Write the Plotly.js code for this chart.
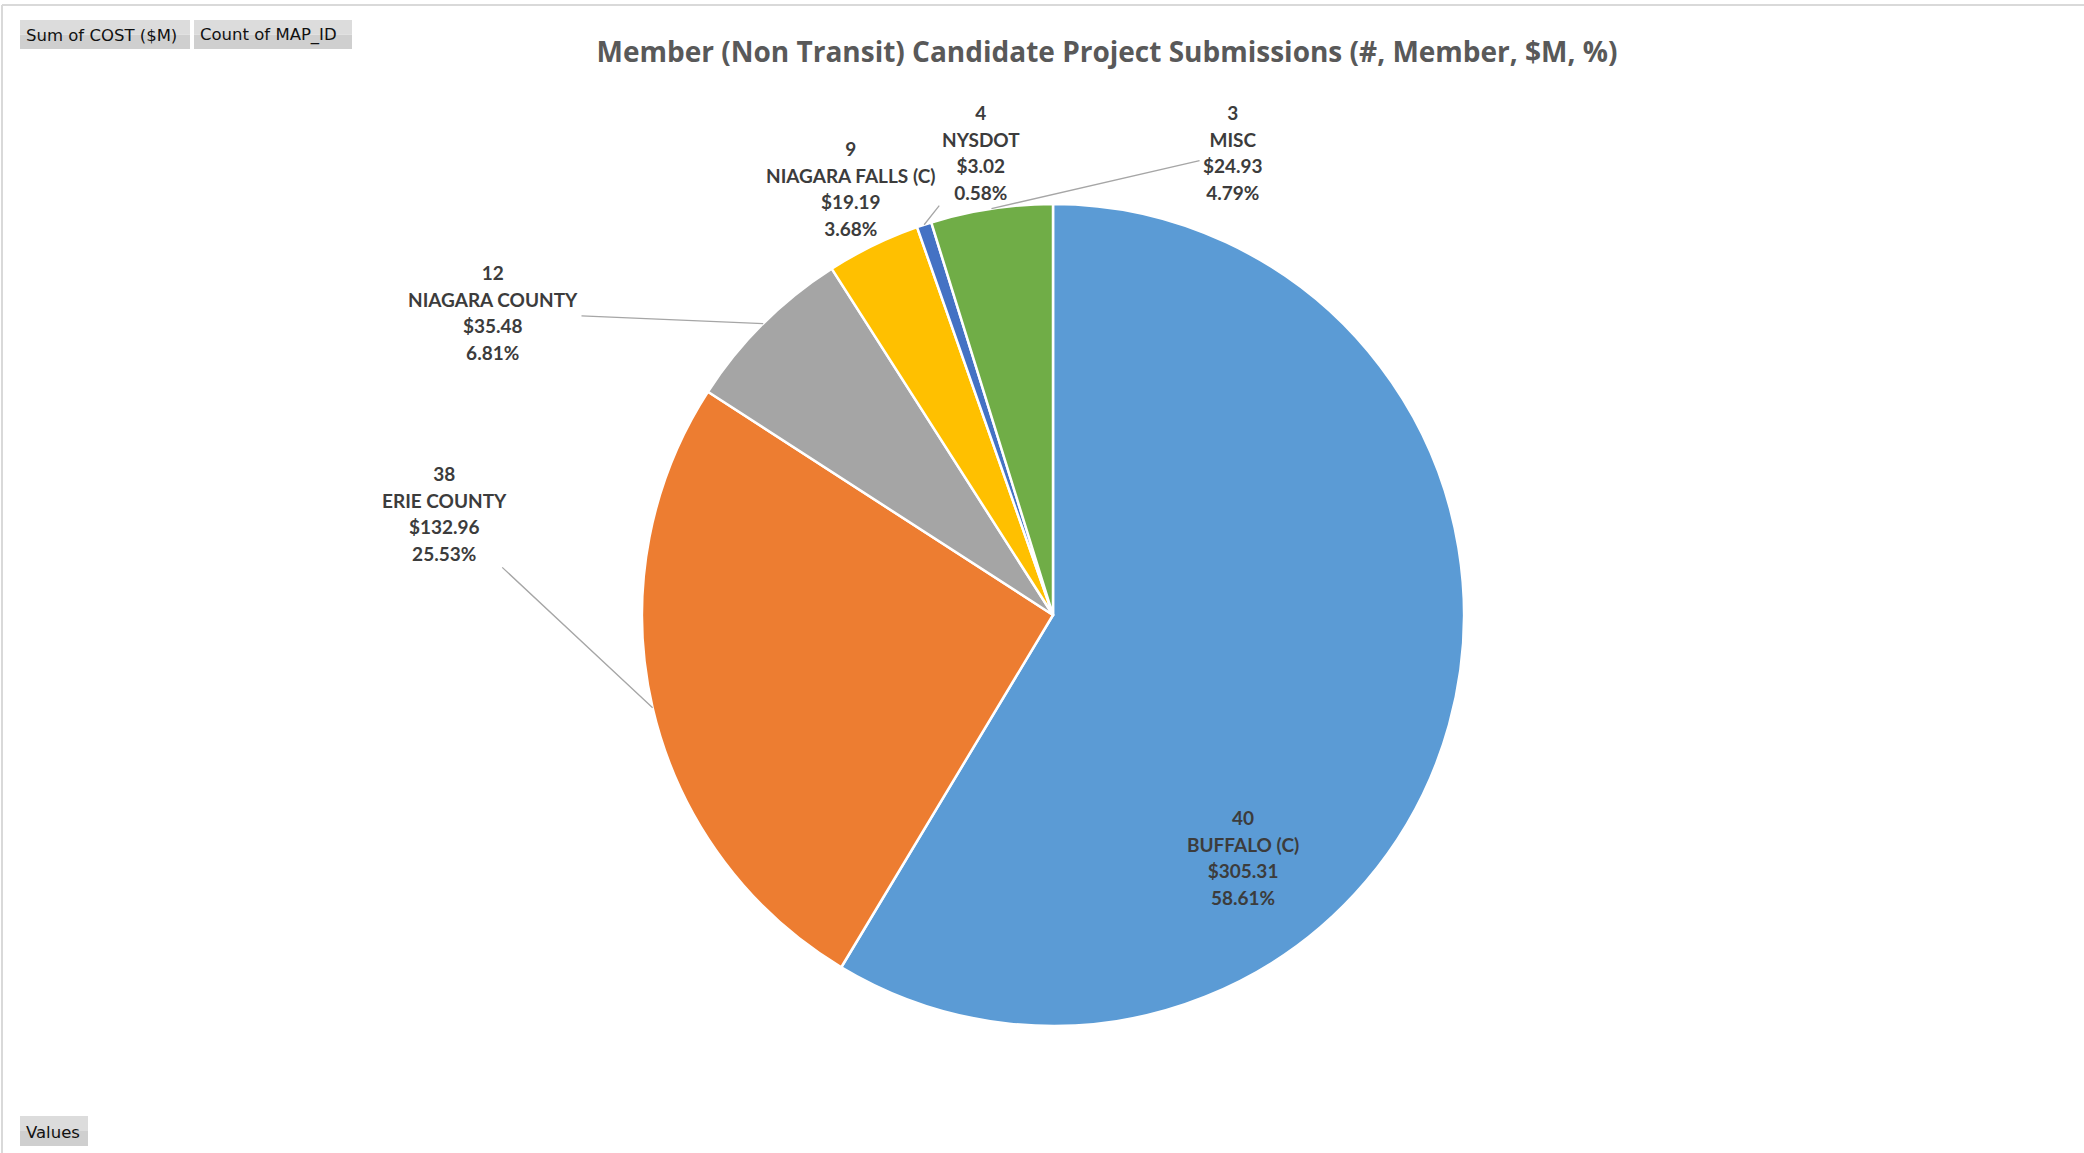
<!DOCTYPE html>
<html>
<head>
<meta charset="utf-8">
<script src="https://cdn.plot.ly/plotly-3.0.1.min.js"></script>
<style>
  html, body { margin: 0; padding: 0; background: #ffffff; }
  #chart { width: 2084px; height: 1153px; }
</style>
</head>
<body>
<div id="chart"></div>
<script>
// ---- data ----
const members = ["BUFFALO (C)", "ERIE COUNTY", "NIAGARA COUNTY", "NIAGARA FALLS (C)", "NYSDOT", "MISC"];
const costM = [305.31, 132.96, 35.48, 19.19, 3.02, 24.93];
const counts = [40, 38, 12, 9, 4, 3];
const sliceColors = ["#5B9BD5", "#ED7D31", "#A5A5A5", "#FFC000", "#4472C4", "#70AD47"];

// ---- layout geometry (pixels) ----
const W = 2084, H = 1153;
const CX = 1053, CY = 615, R = 411;
// label block centres, in pixels, and whether a leader line is drawn
const labelPos = [
  {x: 1243, y: 857, leader: false},
  {x: 444,  y: 513, leader: true},
  {x: 493,  y: 312, leader: true},
  {x: 851,  y: 188, leader: false},
  {x: 981,  y: 153, leader: true},
  {x: 1233, y: 153, leader: true}
];

const total = costM.reduce((a, b) => a + b, 0);
// the outer size sets the line spacing, the inner span sets the glyph size
const labelFont = {family: "Lato, 'Open Sans', sans-serif", size: 20.5, color: "#3C3C3C", weight: 700};
const ln = s => "<span style='font-size:19px'><b>" + s + "</b></span>";

const annotations = [];
let cum = 0;
costM.forEach((v, i) => {
  const mid = (cum + v / 2) / total * 2 * Math.PI; // clockwise from 12 o'clock
  cum += v;
  const pct = (v / total * 100).toFixed(2) + "%";
  const txt = [String(counts[i]), members[i], "$" + v.toFixed(2), pct].map(ln).join("<br>");
  const lp = labelPos[i];
  if (lp.leader) {
    const tx = CX + R * Math.sin(mid);
    const ty = CY - R * Math.cos(mid);
    annotations.push({
      x: tx / W, y: 1 - ty / H, xref: "paper", yref: "paper",
      ax: lp.x - tx, ay: lp.y - ty,
      text: txt, showarrow: true, arrowhead: 0, arrowwidth: 1.3, arrowcolor: "#A6A6A6",
      standoff: 0, startstandoff: 2,
      font: labelFont, align: "center"
    });
  } else {
    annotations.push({
      x: lp.x / W, y: 1 - lp.y / H, xref: "paper", yref: "paper",
      xanchor: "center", yanchor: "middle",
      text: txt, showarrow: false, font: labelFont, align: "center"
    });
  }
});

// field buttons (pivot chart UI)
const btnFont = {family: "'DejaVu Sans', 'Liberation Sans', sans-serif", size: 16.5, color: "#111111"};
const buttons = [
  {x0: 20, x1: 190, y0: 20, y1: 49, text: "Sum of COST ($M)"},
  {x0: 194, x1: 352, y0: 20, y1: 49, text: "Count of MAP_ID"},
  {x0: 20, x1: 88, y0: 1116, y1: 1146, text: "Values"}
];
const shapes = [
  {type: "line", xref: "paper", yref: "paper", x0: 2 / W, x1: 1, y0: 1 - 5 / H, y1: 1 - 5 / H,
   line: {color: "#D9D9D9", width: 2}},
  {type: "line", xref: "paper", yref: "paper", x0: 2 / W, x1: 2 / W, y0: 0, y1: 1 - 5 / H,
   line: {color: "#D9D9D9", width: 2}}
];
buttons.forEach(b => {
  const mid = (b.y0 + b.y1) / 2;
  shapes.push({type: "rect", xref: "paper", yref: "paper",
    x0: b.x0 / W, x1: b.x1 / W, y0: 1 - b.y1 / H, y1: 1 - mid / H,
    fillcolor: "#CFCFCF", line: {width: 0}, layer: "below"});
  shapes.push({type: "rect", xref: "paper", yref: "paper",
    x0: b.x0 / W, x1: b.x1 / W, y0: 1 - mid / H, y1: 1 - b.y0 / H,
    fillcolor: "#DCDCDC", line: {width: 0}, layer: "below"});
  annotations.push({x: (b.x0 + 4) / W, y: 1 - (mid + 1) / H, xref: "paper", yref: "paper",
    xanchor: "left", yanchor: "middle", text: b.text, showarrow: false, font: btnFont});
});

const trace = {
  type: "pie",
  labels: members,
  values: costM,
  customdata: counts,
  sort: false,
  direction: "clockwise",
  rotation: 0,
  textinfo: "none",
  hoverinfo: "label+value+percent",
  marker: {colors: sliceColors, line: {color: "#FFFFFF", width: 2.5}},
  domain: {x: [(CX - R) / W, (CX + R) / W], y: [1 - (CY + R) / H, 1 - (CY - R) / H]},
  showlegend: false
};

const layout = {
  width: W, height: H,
  margin: {l: 0, r: 0, t: 0, b: 0},
  paper_bgcolor: "#FFFFFF",
  title: {
    text: "<b>Member (Non Transit) Candidate Project Submissions (#, Member, $M, %)</b>",
    x: 1107 / W, xanchor: "center", xref: "paper",
    y: 1 - 52 / H, yanchor: "middle", yref: "paper",
    font: {family: "'Open Sans', Lato, sans-serif", size: 28, color: "#595959"}
  },
  showlegend: false,
  annotations: annotations,
  shapes: shapes
};

Plotly.newPlot("chart", [trace], layout, {displayModeBar: false, staticPlot: true});
</script>
</body>
</html>
